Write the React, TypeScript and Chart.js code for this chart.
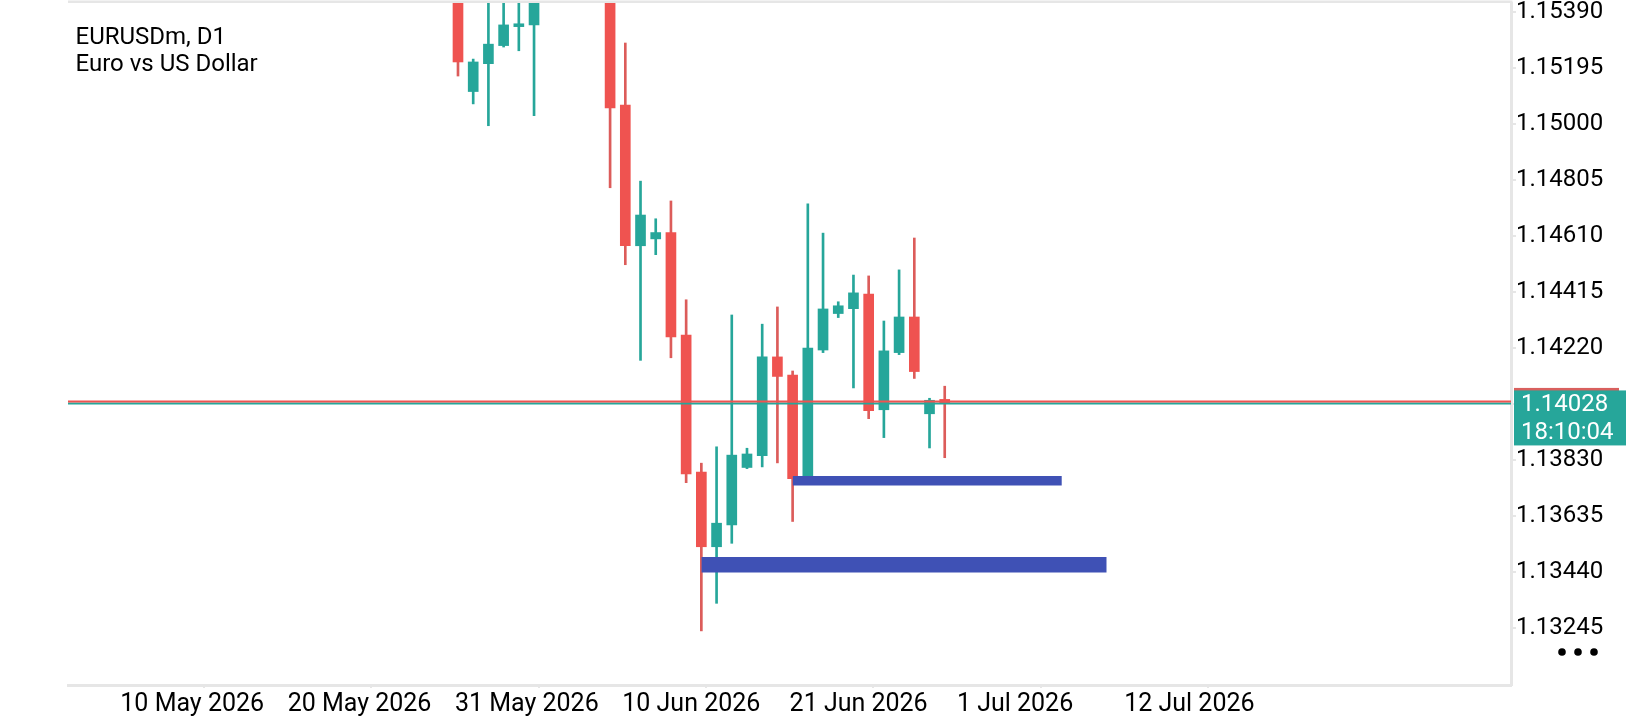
import React, { useEffect, useRef } from 'react';
import { Chart, registerables } from 'chart.js';

Chart.register(...registerables);

// ---- Chart text ----
const SYMBOL = 'EURUSDm, D1';
const DESCRIPTION = 'Euro vs US Dollar';
const SERVER_TIME = '18:10:04';

// ---- Candles (bar index, OHLC) ----
const BAR_INDEX = [0, 1, 2, 3, 4, 5, 10, 11, 12, 13, 14, 15, 16, 17, 18, 19, 20, 21, 22, 23, 24, 25, 26, 27, 28, 29, 30, 31, 32];
const OPEN = [1.155, 1.15114, 1.15211, 1.15274, 1.1534, 1.15346, 1.1552, 1.15067, 1.14577, 1.14601, 1.14623, 1.14266, 1.13789, 1.13529, 1.13605, 1.13805, 1.13846, 1.1419, 1.14127, 1.13773, 1.14214, 1.14341, 1.14358, 1.14409, 1.14006, 1.14205, 1.14329, 1.13992, 1.14042];
const HIGH = [1.1555, 1.15227, 1.155, 1.155, 1.155, 1.1556, 1.1558, 1.15283, 1.14802, 1.14671, 1.14733, 1.14389, 1.1382, 1.13877, 1.14336, 1.13872, 1.14304, 1.14364, 1.14141, 1.14723, 1.14621, 1.14382, 1.14475, 1.14472, 1.14315, 1.14493, 1.14604, 1.14046, 1.14088];
const LOW = [1.15168, 1.15071, 1.14995, 1.15269, 1.15256, 1.1503, 1.14779, 1.14511, 1.14178, 1.14546, 1.14187, 1.13752, 1.13236, 1.13332, 1.13541, 1.13801, 1.13807, 1.13821, 1.13617, 1.13763, 1.14205, 1.14327, 1.14082, 1.13975, 1.13909, 1.14198, 1.14115, 1.13873, 1.13839];
const CLOSE = [1.15217, 1.15217, 1.15279, 1.15346, 1.1535, 1.155, 1.15057, 1.14577, 1.14684, 1.14623, 1.1426, 1.13783, 1.13529, 1.13611, 1.13848, 1.13852, 1.1419, 1.14122, 1.13766, 1.14221, 1.14357, 1.14368, 1.14413, 1.14003, 1.14211, 1.14329, 1.14139, 1.14039, 1.14028];

// ---- Current prices ----
const BID = 1.14028;
const ASK = 1.14035;

// ---- Zones (rectangles) ----
const ZONE_START = [22, 16];
const ZONE_END = [39.7, 42.65];
const ZONE_TOP = [1.13775, 1.13493];
const ZONE_BOTTOM = [1.13742, 1.13439];

// ---- Axes ----
const X_TICK_INDEX = [-22.2, -11.2, -0.2, 10.8, 21.8, 32.8, 43.8];
const X_TICK_LABELS = ['10 May 2026', '20 May 2026', '31 May 2026', '10 Jun 2026', '21 Jun 2026', '1 Jul 2026', '12 Jul 2026'];
const Y_TICKS = [1.13245, 1.1344, 1.13635, 1.1383, 1.14025, 1.1422, 1.14415, 1.1461, 1.14805, 1.15, 1.15195, 1.1539];
const X_MIN = -25.64;
const X_MAX = 69.23;
const Y_MIN = 1.130476;
const Y_MAX = 1.154223;

// ---- Styles ----
const GREEN = '#26a69a';
const RED = '#ef5350';
const RED_WICK = '#dc5c5a';
const ZONE_COLOR = '#3f51b5';
const FRAME = '#e6e6e6';
const FONT = 'Roboto';

const decorPlugin = {
  id: 'decor',
  afterDraw(chart: any) {
    const { ctx, chartArea, scales } = chart;
    const ys = scales.y;
    ctx.save();
    // top frame line
    ctx.fillStyle = FRAME;
    ctx.fillRect(chartArea.left, 0.5, chartArea.right - chartArea.left + 1.5, 2.5);
    // ask / bid price labels
    const yAsk = ys.getPixelForValue(ASK);
    const yBid = ys.getPixelForValue(BID);
    const bx = chartArea.right + 3;
    ctx.fillStyle = '#d9605e';
    ctx.fillRect(bx, yAsk - 13.5, 105, 50);
    ctx.fillStyle = GREEN;
    ctx.fillRect(bx, yBid - 13, 112, 55);
    ctx.fillStyle = '#ffffff';
    ctx.font = `24px ${FONT}`;
    ctx.textBaseline = 'alphabetic';
    ctx.textAlign = 'left';
    ctx.fillText(BID.toFixed(5), bx + 7, yBid + 8);
    ctx.fillText(SERVER_TIME, bx + 7, yBid + 36);
    // menu dots
    ctx.fillStyle = '#000000';
    [1562, 1578, 1594].forEach((cx) => {
      ctx.beginPath();
      ctx.arc(cx, 652, 3.8, 0, Math.PI * 2);
      ctx.fill();
    });
    ctx.restore();
  },
};

export default function App() {
  const canvasRef = useRef<HTMLCanvasElement | null>(null);

  useEffect(() => {
    if (!canvasRef.current) return;
    const bodyColors = BAR_INDEX.map((_, i) => (CLOSE[i] >= OPEN[i] ? GREEN : RED));
    const wickColors = BAR_INDEX.map((_, i) => (CLOSE[i] >= OPEN[i] ? GREEN : RED_WICK));

    const zoneDatasets: any[] = [];
    ZONE_START.forEach((x0, i) => {
      zoneDatasets.push({
        type: 'line',
        data: [
          { x: x0, y: ZONE_TOP[i] },
          { x: ZONE_END[i], y: ZONE_TOP[i] },
        ],
        borderWidth: 0,
        borderColor: 'rgba(0,0,0,0)',
        backgroundColor: ZONE_COLOR,
        pointRadius: 0,
        fill: '+1',
        order: 2,
        clip: 0,
      });
      zoneDatasets.push({
        type: 'line',
        data: [
          { x: x0, y: ZONE_BOTTOM[i] },
          { x: ZONE_END[i], y: ZONE_BOTTOM[i] },
        ],
        borderWidth: 0,
        borderColor: 'rgba(0,0,0,0)',
        pointRadius: 0,
        fill: false,
        order: 2,
        clip: 0,
      });
    });

    const chart = new Chart(canvasRef.current, {
      type: 'bar',
      data: {
        datasets: [
          {
            type: 'line',
            data: [
              { x: X_MIN, y: ASK },
              { x: X_MAX, y: ASK },
            ],
            borderColor: RED,
            borderWidth: 2,
            pointRadius: 0,
            order: 0,
            clip: 0,
          } as any,
          {
            type: 'line',
            data: [
              { x: X_MIN, y: BID },
              { x: X_MAX, y: BID },
            ],
            borderColor: GREEN,
            borderWidth: 2,
            pointRadius: 0,
            order: 1,
            clip: 0,
          } as any,
          ...zoneDatasets,
          {
            type: 'bar',
            data: BAR_INDEX.map((x, i) => ({ x, y: [OPEN[i], CLOSE[i]] })),
            backgroundColor: bodyColors,
            grouped: false,
            barThickness: 10,
            maxBarThickness: 10,
            borderWidth: 0,
            order: 4,
            clip: 0,
          } as any,
          {
            type: 'bar',
            data: BAR_INDEX.map((x, i) => ({ x, y: [LOW[i], HIGH[i]] })),
            backgroundColor: wickColors,
            grouped: false,
            barThickness: 2,
            maxBarThickness: 2,
            borderWidth: 0,
            order: 5,
            clip: 0,
          } as any,
        ],
      },
      options: {
        responsive: false,
        animation: false,
        events: [],
        layout: { padding: { left: 68, top: 3, right: 0, bottom: 0 } },
        plugins: {
          legend: { display: false },
          tooltip: { enabled: false },
        },
        scales: {
          x: {
            type: 'linear',
            min: X_MIN,
            max: X_MAX,
            offset: false,
            afterFit: (s: any) => {
              s.height = 35;
              s.paddingLeft = 0;
              s.paddingRight = 0;
            },
            afterBuildTicks: (s: any) => {
              s.ticks = X_TICK_INDEX.map((v) => ({ value: v }));
            },
            border: { display: true, color: FRAME, width: 3 },
            grid: { display: true, drawOnChartArea: false, drawTicks: true, tickLength: 3, color: FRAME, lineWidth: 2 },
            ticks: {
              autoSkip: false,
              maxRotation: 0,
              minRotation: 0,
              align: 'start',
              padding: 2,
              color: '#000000',
              font: { family: FONT, size: 25 },
              callback: (v: any) => {
                const i = X_TICK_INDEX.indexOf(Number(v));
                return i >= 0 ? X_TICK_LABELS[i] : '';
              },
            },
          } as any,
          y: {
            type: 'linear',
            position: 'right',
            min: Y_MIN,
            max: Y_MAX,
            afterFit: (s: any) => {
              s.width = 129;
              s.paddingTop = 0;
              s.paddingBottom = 0;
            },
            afterBuildTicks: (s: any) => {
              s.ticks = Y_TICKS.map((v) => ({ value: v }));
            },
            border: { display: true, color: FRAME, width: 3 },
            grid: { display: true, drawOnChartArea: false, drawTicks: true, tickLength: 5, color: FRAME, lineWidth: 2 },
            ticks: {
              autoSkip: false,
              padding: 0,
              color: '#000000',
              font: { family: FONT, size: 24 },
              callback: (v: any) => Number(v).toFixed(5),
            },
          } as any,
        },
      } as any,
      plugins: [decorPlugin],
    });

    return () => {
      chart.destroy();
    };
  }, []);

  return (
    <div style={{ position: 'absolute', left: 0, top: 0, width: 1640, height: 720, background: '#ffffff', overflow: 'hidden' }}>
      <canvas ref={canvasRef} width={1640} height={720} style={{ position: 'absolute', left: 0, top: 0, width: 1640, height: 720 }} />
      <div
        style={{
          position: 'absolute',
          left: 75.5,
          top: 22.6,
          fontFamily: FONT,
          fontSize: 24,
          lineHeight: '27px',
          color: '#000000',
          whiteSpace: 'nowrap',
        }}
      >
        <div>{SYMBOL}</div>
        <div>{DESCRIPTION}</div>
      </div>
    </div>
  );
}
